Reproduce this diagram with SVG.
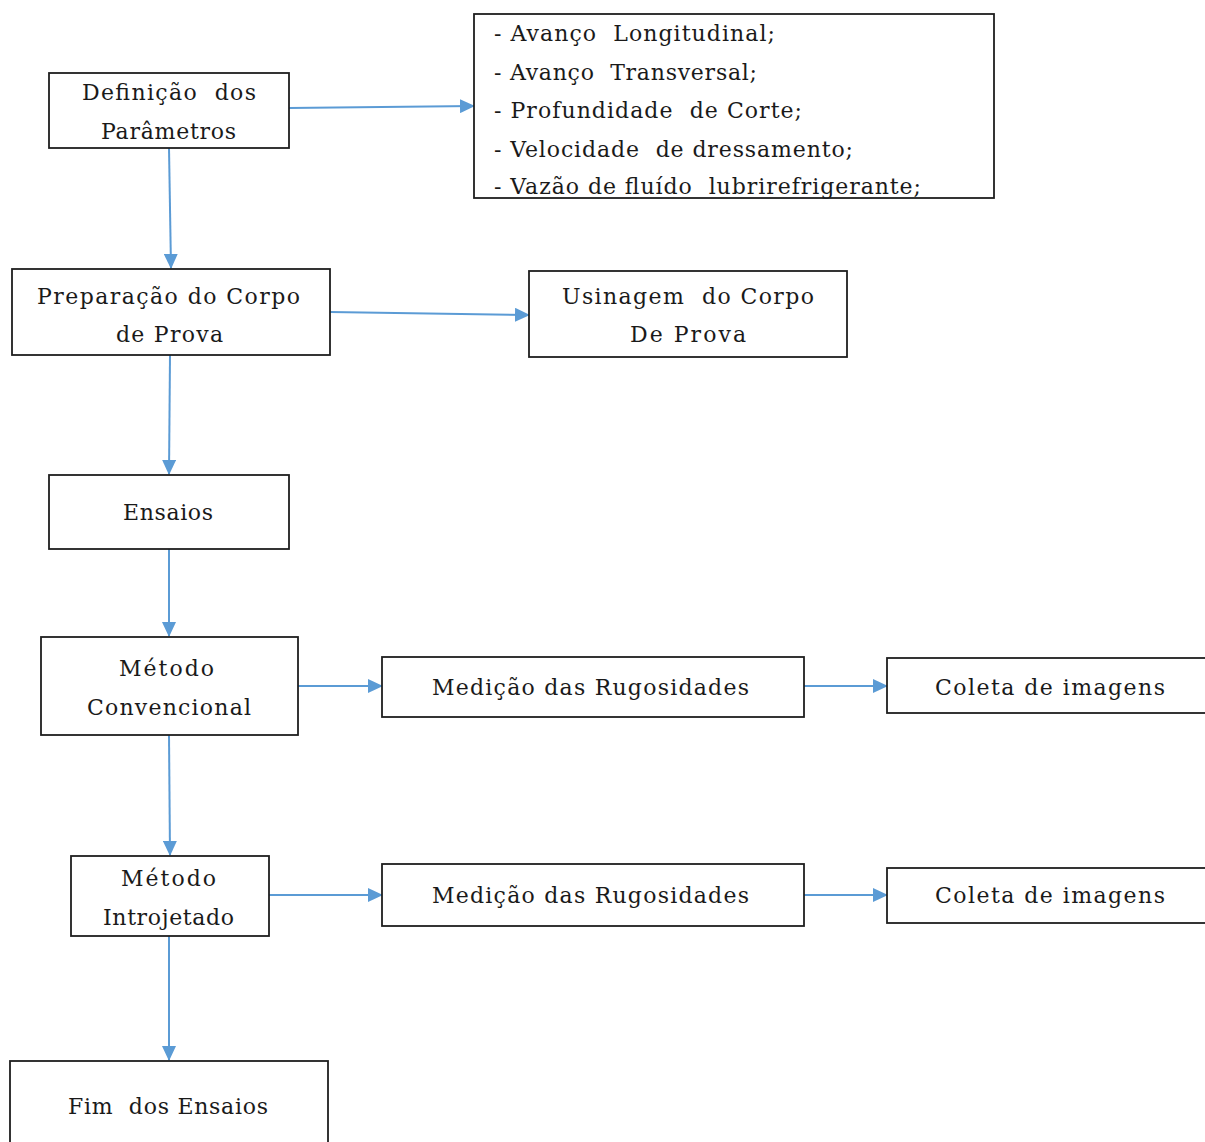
<svg xmlns="http://www.w3.org/2000/svg" width="1205" height="1142" viewBox="0 0 1205 1142">
<defs>
<style>
.box{fill:#fff;stroke:#1e1e1e;stroke-width:1.8}
.t{font-family:'DejaVu Serif','Liberation Serif',serif;font-size:22px;fill:#1a1a1a}
.c{fill:none;stroke:#5b9bd5;stroke-width:2}
</style>
<marker id="ah" markerWidth="15" markerHeight="14" refX="14" refY="7" orient="auto" markerUnits="userSpaceOnUse">
<path d="M0,0 L15,7 L0,14 Z" fill="#5b9bd5"/>
</marker>
</defs>
<rect width="1205" height="1142" fill="#fff"/>
<g id="connectors">
<line class="c" x1="289" y1="108" x2="474" y2="106" marker-end="url(#ah)"/>
<line class="c" x1="169" y1="148" x2="171" y2="268" marker-end="url(#ah)"/>
<line class="c" x1="330" y1="312" x2="529" y2="315" marker-end="url(#ah)"/>
<line class="c" x1="170" y1="355" x2="169" y2="474" marker-end="url(#ah)"/>
<line class="c" x1="169" y1="549" x2="169" y2="636" marker-end="url(#ah)"/>
<line class="c" x1="298" y1="686" x2="382" y2="686" marker-end="url(#ah)"/>
<line class="c" x1="804" y1="686" x2="887" y2="686" marker-end="url(#ah)"/>
<line class="c" x1="169" y1="735" x2="170" y2="855" marker-end="url(#ah)"/>
<line class="c" x1="269" y1="895" x2="382" y2="895" marker-end="url(#ah)"/>
<line class="c" x1="804" y1="895" x2="887" y2="895" marker-end="url(#ah)"/>
<line class="c" x1="169" y1="936" x2="169" y2="1060" marker-end="url(#ah)"/>
</g>
<g id="n1">
<rect class="box" x="49" y="73" width="240" height="75"/>
<text class="t" x="82" y="100" textLength="174" lengthAdjust="spacing" xml:space="preserve">Definição  dos</text>
<text class="t" x="101" y="139" textLength="135" lengthAdjust="spacing">Parâmetros</text>
</g>
<g id="n2">
<rect class="box" x="474" y="14" width="520" height="184"/>
<text class="t" x="494" y="41" textLength="281" lengthAdjust="spacing" xml:space="preserve">- Avanço  Longitudinal;</text>
<text class="t" x="494" y="79.5" textLength="263" lengthAdjust="spacing" xml:space="preserve">- Avanço  Transversal;</text>
<text class="t" x="494" y="118" textLength="308" lengthAdjust="spacing" xml:space="preserve">- Profundidade  de Corte;</text>
<text class="t" x="494" y="156.5" textLength="359" lengthAdjust="spacing" xml:space="preserve">- Velocidade  de dressamento;</text>
<text class="t" x="494" y="194" textLength="427" lengthAdjust="spacing" xml:space="preserve">- Vazão de fluído  lubrirefrigerante;</text>
</g>
<g id="n3">
<rect class="box" x="12" y="269" width="318" height="86"/>
<text class="t" x="37" y="304" textLength="263" lengthAdjust="spacing">Preparação do Corpo</text>
<text class="t" x="116" y="342" textLength="107" lengthAdjust="spacing">de Prova</text>
</g>
<g id="n4">
<rect class="box" x="529" y="271" width="318" height="86"/>
<text class="t" x="562" y="304" textLength="252" lengthAdjust="spacing" xml:space="preserve">Usinagem  do Corpo</text>
<text class="t" x="630" y="342" textLength="116" lengthAdjust="spacing">De Prova</text>
</g>
<g id="n5">
<rect class="box" x="49" y="475" width="240" height="74"/>
<text class="t" x="123" y="520" textLength="90" lengthAdjust="spacing">Ensaios</text>
</g>
<g id="n6">
<rect class="box" x="41" y="637" width="257" height="98"/>
<text class="t" x="119" y="676" textLength="95" lengthAdjust="spacing">Método</text>
<text class="t" x="87" y="715" textLength="164" lengthAdjust="spacing">Convencional</text>
</g>
<g id="n7">
<rect class="box" x="382" y="657" width="422" height="60"/>
<text class="t" x="432" y="695" textLength="317" lengthAdjust="spacing">Medição das Rugosidades</text>
</g>
<g id="n8">
<rect class="box" x="887" y="658" width="330" height="55"/>
<text class="t" x="935" y="695" textLength="230" lengthAdjust="spacing">Coleta de imagens</text>
</g>
<g id="n9">
<rect class="box" x="71" y="856" width="198" height="80"/>
<text class="t" x="121" y="886" textLength="95" lengthAdjust="spacing">Método</text>
<text class="t" x="103" y="925" textLength="131" lengthAdjust="spacing">Introjetado</text>
</g>
<g id="n10">
<rect class="box" x="382" y="864" width="422" height="62"/>
<text class="t" x="432" y="903" textLength="317" lengthAdjust="spacing">Medição das Rugosidades</text>
</g>
<g id="n11">
<rect class="box" x="887" y="868" width="330" height="55"/>
<text class="t" x="935" y="903" textLength="230" lengthAdjust="spacing">Coleta de imagens</text>
</g>
<g id="n12">
<rect class="box" x="10" y="1061" width="318" height="100"/>
<text class="t" x="68" y="1114" textLength="200" lengthAdjust="spacing" xml:space="preserve">Fim  dos Ensaios</text>
</g>
</svg>
